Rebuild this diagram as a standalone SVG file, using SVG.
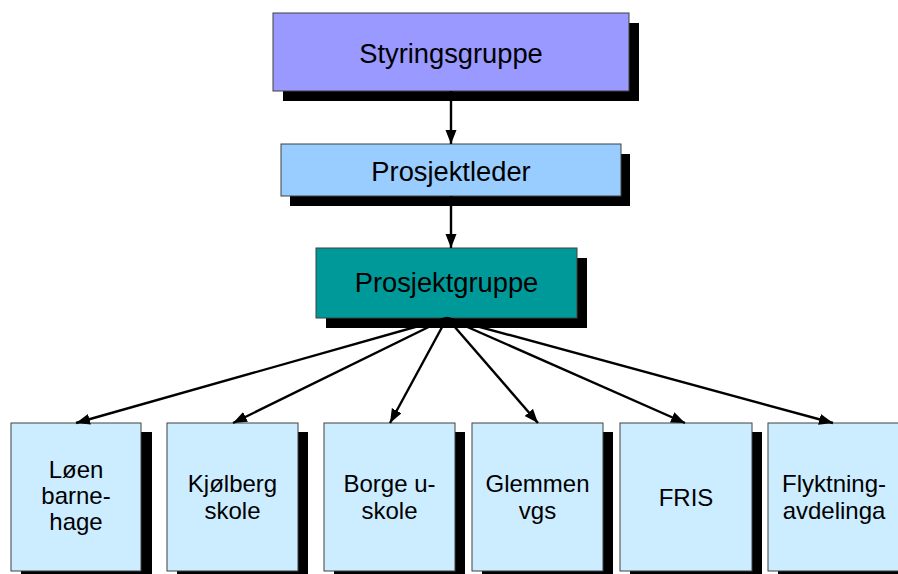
<svg xmlns="http://www.w3.org/2000/svg" width="898" height="574" viewBox="0 0 898 574">
<defs>
<style>
.shadow{fill:#000}
.box{stroke:#404040;stroke-width:1}
.top{font-family:"Liberation Sans",Arial,sans-serif;font-size:27.3px;fill:#000;text-anchor:middle}
.lbl{font-family:"Liberation Sans",Arial,sans-serif;font-size:24px;fill:#000;text-anchor:middle}
.conn{stroke:#000;stroke-width:2.4;fill:none;marker-end:url(#arr)}
</style>
<marker id="arr" markerUnits="userSpaceOnUse" markerWidth="15" markerHeight="12" refX="14" refY="5.5" orient="auto">
<path d="M0,0 L14,5.5 L0,11 z" fill="#000"/>
</marker>
</defs>
<rect width="898" height="574" fill="#fff"/>
<g id="styringsgruppe">
<rect class="shadow" x="283" y="23" width="356" height="78"/>
<rect class="box" x="273" y="13" width="356" height="78" fill="#9999FF"/>
<text class="top" x="451" y="63">Styringsgruppe</text>
</g>
<g id="prosjektleder">
<rect class="shadow" x="290" y="154" width="340" height="52"/>
<rect class="box" x="281" y="144" width="340" height="52" fill="#99CCFF"/>
<text class="top" x="451" y="181">Prosjektleder</text>
</g>
<g id="prosjektgruppe">
<rect class="shadow" x="326" y="258" width="261" height="70"/>
<rect class="box" x="316" y="248" width="261" height="70" fill="#009999"/>
<text class="top" x="446.5" y="292">Prosjektgruppe</text>
</g>
<g id="loen">
<rect class="shadow" x="21" y="432" width="131" height="148"/>
<rect class="box" x="11" y="423" width="130" height="148" fill="#CCECFF"/>
<text class="lbl" x="76" y="478">Løen</text>
<text class="lbl" x="76" y="504">barne-</text>
<text class="lbl" x="76" y="530">hage</text>
</g>
<g id="kjolberg">
<rect class="shadow" x="177" y="432" width="131" height="148"/>
<rect class="box" x="167" y="423" width="131" height="148" fill="#CCECFF"/>
<text class="lbl" x="232.5" y="492">Kjølberg</text>
<text class="lbl" x="232.5" y="519">skole</text>
</g>
<g id="borge">
<rect class="shadow" x="334" y="432" width="131" height="148"/>
<rect class="box" x="324" y="423" width="131" height="148" fill="#CCECFF"/>
<text class="lbl" x="389.5" y="492">Borge u-</text>
<text class="lbl" x="389.5" y="519">skole</text>
</g>
<g id="glemmen">
<rect class="shadow" x="482" y="432" width="131" height="148"/>
<rect class="box" x="472" y="423" width="131" height="148" fill="#CCECFF"/>
<text class="lbl" x="537.5" y="492">Glemmen</text>
<text class="lbl" x="537.5" y="519">vgs</text>
</g>
<g id="fris">
<rect class="shadow" x="630" y="432" width="132" height="148"/>
<rect class="box" x="620" y="423" width="132" height="148" fill="#CCECFF"/>
<text class="lbl" x="686" y="506">FRIS</text>
</g>
<g id="flyktning">
<rect class="shadow" x="778" y="432" width="131" height="148"/>
<rect class="box" x="768" y="423" width="131" height="148" fill="#CCECFF"/>
<text class="lbl" x="834" y="492">Flyktning-</text>
<text class="lbl" x="834" y="519">avdelinga</text>
</g>
<g id="connectors">
<line class="conn" x1="451" y1="91" x2="451" y2="144"/>
<line class="conn" x1="451" y1="196" x2="451" y2="248"/>
<line class="conn" x1="447" y1="318" x2="76" y2="423"/>
<line class="conn" x1="447" y1="318" x2="233" y2="423"/>
<line class="conn" x1="447" y1="318" x2="390" y2="423"/>
<line class="conn" x1="447" y1="318" x2="538" y2="423"/>
<line class="conn" x1="447" y1="318" x2="685" y2="423"/>
<line class="conn" x1="447" y1="318" x2="833" y2="423"/>
</g>
</svg>
